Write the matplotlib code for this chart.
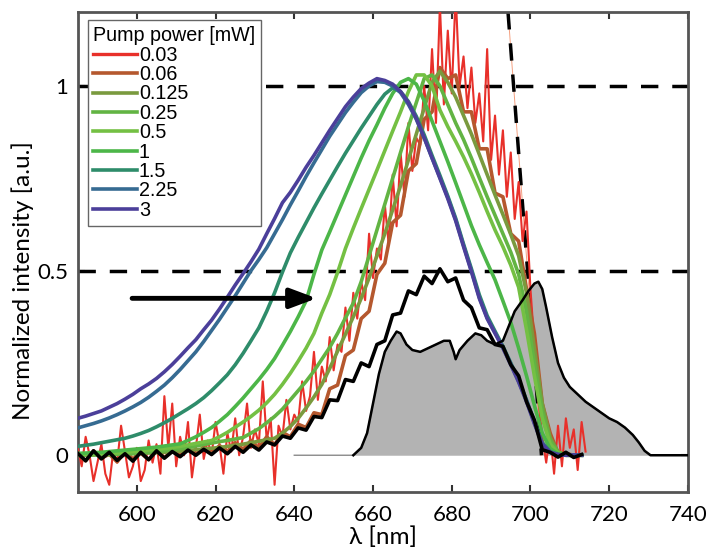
import numpy as np
import matplotlib.pyplot as plt

# wavelength grids [nm]
wl = np.arange(585, 714, 2)          # 2 nm grid for the smoother traces
wl_red = np.arange(585, 715, 1)      # 1 nm grid for the noisy 0.03 mW trace

powers = ["0.03", "0.06", "0.125", "0.25", "0.5", "1", "1.5", "2.25", "3"]
colors = ["#e8302a", "#b5582e", "#7a9a3e", "#62b443", "#74c043",
          "#4cb648", "#2e8c6a", "#366b92", "#4b3f9a"]

p003 = [0.02, -0.03, 0.05, 0.00, -0.07, -0.02, 0.03, -0.05, -0.08, 0.01,
        -0.02, 0.08, 0.01, -0.06, -0.03, 0.02, -0.07, -0.04, 0.04, -0.02,
        0.03, -0.05, 0.16, 0.02, 0.14, -0.03, 0.05, 0.00, 0.09, -0.06,
        0.02, 0.11, -0.01, 0.04, 0.00, 0.09, 0.03, -0.05, 0.06, 0.01,
        0.10, 0.00, 0.05, 0.14, 0.02, 0.07, 0.03, 0.20, 0.04, 0.10,
        -0.08, 0.08, 0.05, 0.15, 0.07, 0.11, 0.09, 0.20, 0.12, 0.16,
        0.28, 0.15, 0.24, 0.20, 0.32, 0.23, 0.30, 0.28, 0.40, 0.31,
        0.44, 0.37, 0.47, 0.42, 0.60, 0.48, 0.56, 0.53, 0.68, 0.57,
        0.76, 0.62, 0.82, 0.70, 0.90, 0.77, 0.86, 0.84, 1.00, 0.88,
        1.10, 0.90, 1.22, 0.95, 1.15, 0.98, 1.25, 1.00, 1.08, 0.94,
        1.05, 0.90, 0.98, 0.85, 1.10, 0.80, 0.92, 0.76, 0.88, 0.70,
        0.82, 0.64, 0.74, 0.58, 0.66, 0.45, 0.30, 0.15, 0.05, -0.02,
        0.06, -0.05, 0.08, -0.03, 0.10, 0.02, 0.07, -0.04, 0.09, 0.01]

p006 = [0.005, -0.015, 0.012, -0.008, 0.003, -0.018, 0.010, -0.010, 0.006, -0.012,
        0.014, -0.006, 0.010, 0.000, 0.018, 0.002, 0.022, 0.006, 0.026, 0.010,
        0.034, 0.016, 0.040, 0.020, 0.050, 0.028, 0.062, 0.050, 0.084, 0.075,
        0.115, 0.110, 0.180, 0.190, 0.270, 0.285, 0.370, 0.390, 0.490, 0.520,
        0.630, 0.650, 0.770, 0.790, 0.910, 0.930, 1.050, 1.020, 1.030, 0.930,
        0.930, 0.830, 0.830, 0.710, 0.700, 0.600, 0.580, 0.450, 0.330, 0.140,
        0.060, 0.005, 0.005, 0.000, 0.000]

p0125 = [0.000, 0.000, 0.001, 0.001, 0.002, 0.002, 0.003, 0.004, 0.005, 0.006,
         0.007, 0.008, 0.010, 0.011, 0.013, 0.015, 0.017, 0.019, 0.021, 0.024,
         0.027, 0.030, 0.034, 0.038, 0.042, 0.046, 0.060, 0.078, 0.100, 0.128,
         0.158, 0.192, 0.235, 0.282, 0.328, 0.375, 0.425, 0.480, 0.540, 0.600,
         0.665, 0.730, 0.800, 0.870, 0.940, 1.010, 1.040, 1.010, 0.970, 0.920,
         0.870, 0.815, 0.760, 0.705, 0.652, 0.598, 0.540, 0.440, 0.290, 0.140,
         0.048, 0.010, 0.000, 0.000, 0.000]

p025 = [0.000, 0.001, 0.001, 0.002, 0.002, 0.003, 0.004, 0.005, 0.006, 0.008,
        0.010, 0.012, 0.015, 0.018, 0.021, 0.025, 0.029, 0.033, 0.037, 0.040,
        0.044, 0.048, 0.060, 0.072, 0.088, 0.105, 0.125, 0.150, 0.175, 0.200,
        0.228, 0.260, 0.292, 0.330, 0.372, 0.412, 0.470, 0.540, 0.610, 0.680,
        0.750, 0.820, 0.890, 0.955, 1.020, 1.030, 1.000, 0.950, 0.900, 0.855,
        0.805, 0.752, 0.700, 0.650, 0.600, 0.550, 0.490, 0.390, 0.250, 0.120,
        0.040, 0.008, 0.000, 0.000, 0.000]

p05 = [0.002, 0.002, 0.003, 0.004, 0.005, 0.006, 0.008, 0.010, 0.012, 0.014,
       0.016, 0.018, 0.021, 0.024, 0.028, 0.032, 0.036, 0.040, 0.050, 0.062,
       0.076, 0.090, 0.105, 0.122, 0.142, 0.165, 0.192, 0.222, 0.255, 0.290,
       0.330, 0.385, 0.435, 0.495, 0.560, 0.615, 0.668, 0.720, 0.772, 0.825,
       0.878, 0.930, 0.985, 1.030, 1.030, 1.000, 0.935, 0.890, 0.850, 0.808,
       0.762, 0.712, 0.660, 0.610, 0.565, 0.515, 0.455, 0.340, 0.215, 0.100,
       0.030, 0.006, 0.000, 0.000, 0.000]

p1 = [0.005, 0.006, 0.007, 0.008, 0.010, 0.012, 0.014, 0.016, 0.018, 0.020,
      0.022, 0.025, 0.028, 0.031, 0.040, 0.050, 0.062, 0.075, 0.092, 0.110,
      0.132, 0.155, 0.180, 0.205, 0.232, 0.262, 0.298, 0.335, 0.375, 0.418,
      0.490, 0.556, 0.605, 0.655, 0.705, 0.755, 0.805, 0.852, 0.895, 0.940,
      0.980, 1.010, 1.020, 1.005, 0.960, 0.905, 0.850, 0.795, 0.738, 0.680,
      0.622, 0.570, 0.522, 0.475, 0.418, 0.360, 0.290, 0.215, 0.135, 0.060,
      0.018, 0.004, 0.000, 0.000, 0.000]

p15 = [0.024, 0.027, 0.030, 0.034, 0.038, 0.042, 0.046, 0.052, 0.059, 0.067,
       0.077, 0.088, 0.100, 0.113, 0.126, 0.140, 0.156, 0.175, 0.196, 0.218,
       0.245, 0.276, 0.310, 0.345, 0.390, 0.440, 0.496, 0.548, 0.590, 0.630,
       0.670, 0.708, 0.745, 0.782, 0.818, 0.852, 0.886, 0.918, 0.950, 0.978,
       0.995, 0.985, 0.958, 0.918, 0.868, 0.812, 0.758, 0.702, 0.642, 0.572,
       0.505, 0.435, 0.378, 0.336, 0.295, 0.250, 0.202, 0.150, 0.090, 0.034,
       0.010, 0.002, 0.000, 0.000, 0.000]

p225 = [0.074, 0.080, 0.086, 0.093, 0.101, 0.110, 0.120, 0.131, 0.143, 0.157,
        0.173, 0.190, 0.210, 0.232, 0.256, 0.280, 0.308, 0.338, 0.368, 0.400,
        0.432, 0.466, 0.500, 0.530, 0.562, 0.600, 0.638, 0.678, 0.716, 0.755,
        0.792, 0.828, 0.864, 0.896, 0.928, 0.956, 0.982, 1.000, 1.012, 1.010,
        1.000, 0.982, 0.950, 0.910, 0.860, 0.805, 0.752, 0.698, 0.638, 0.568,
        0.500, 0.428, 0.372, 0.332, 0.292, 0.248, 0.200, 0.148, 0.088, 0.032,
        0.008, 0.002, 0.000, 0.000, 0.000]

p3 = [0.100, 0.106, 0.113, 0.120, 0.130, 0.140, 0.152, 0.165, 0.180, 0.193,
      0.208, 0.226, 0.246, 0.268, 0.291, 0.313, 0.340, 0.366, 0.396, 0.428,
      0.461, 0.492, 0.524, 0.558, 0.600, 0.641, 0.684, 0.712, 0.745, 0.780,
      0.812, 0.846, 0.880, 0.912, 0.944, 0.970, 0.993, 1.008, 1.020, 1.015,
      1.005, 0.985, 0.955, 0.912, 0.860, 0.805, 0.750, 0.695, 0.635, 0.565,
      0.497, 0.425, 0.370, 0.330, 0.290, 0.245, 0.198, 0.145, 0.085, 0.030,
      0.008, 0.002, 0.000, 0.001, 0.000]

# black reference spectrum
ref = [0.005, -0.015, 0.012, -0.010, 0.008, -0.014, 0.004, -0.016, 0.008, -0.012,
       0.012, -0.008, 0.010, -0.004, 0.014, 0.000, 0.016, 0.002, 0.020, 0.004,
       0.024, 0.008, 0.028, 0.014, 0.036, 0.028, 0.052, 0.046, 0.074, 0.068,
       0.105, 0.102, 0.150, 0.148, 0.205, 0.200, 0.250, 0.240, 0.300, 0.310,
       0.380, 0.385, 0.445, 0.435, 0.485, 0.465, 0.505, 0.470, 0.480, 0.420,
       0.400, 0.345, 0.340, 0.300, 0.295, 0.245, 0.215, 0.145, 0.095, 0.015,
       0.008, -0.005, 0.008, -0.006, 0.002]

# gray filled spectrum
gray_wl = [640, 655, 657, 658.5, 660, 661.5, 663, 664.5, 666, 667, 668.5, 670,
           672, 674, 676, 678, 679.5, 680.5, 681, 682, 684, 686, 687.5, 689,
           691, 693, 694.5, 696, 698, 699.5, 701, 702, 703, 704, 705.5, 707,
           708.5, 710, 712, 714, 716, 718, 720, 722, 724, 726, 727.5, 729,
           730.5, 740]
gray_val = [0, 0, 0.02, 0.06, 0.14, 0.22, 0.28, 0.31, 0.335, 0.33, 0.30, 0.285,
            0.28, 0.29, 0.30, 0.31, 0.31, 0.28, 0.26, 0.285, 0.31, 0.33, 0.325, 0.31,
            0.30, 0.31, 0.35, 0.39, 0.42, 0.445, 0.465, 0.47, 0.45, 0.40, 0.32, 0.25,
            0.21, 0.185, 0.165, 0.145, 0.13, 0.115, 0.10, 0.09, 0.075, 0.055, 0.035, 0.012,
            0.0, 0.0]

# dashed guides and arrow
edge_wl = [694.3, 702.8]
edge_val = [1.2, 0.0]
levels = [1.0, 0.5]
arrow_from = (598.1, 0.425)
arrow_to = (646.4, 0.425)

series = [p003, p006, p0125, p025, p05, p1, p15, p225, p3]

fig = plt.figure(figsize=(7.07, 5.53), dpi=100)
ax = fig.add_axes([0.110, 0.110, 0.863, 0.868])

ax.fill_between(gray_wl, gray_val, 0, color="#b3b3b3", lw=0, zorder=1)
ax.plot(gray_wl, gray_val, color="#8a8a8a", lw=1.0, zorder=1)

for lev in levels:
    ax.axhline(lev, color="black", lw=2.5, ls=(0, (5, 4)), zorder=2)
ax.plot(edge_wl, edge_val, color="#f4a080", lw=0.7, zorder=2)
ax.plot(edge_wl, edge_val, color="black", lw=2.5, ls=(0, (5, 4)), zorder=2)

handles = []
for name, vals, c in zip(powers, series, colors):
    if name == "0.03":
        ax.plot(wl_red, vals, color=c, lw=1.5, zorder=3)
        h, = ax.plot([], [], color=c, lw=2.4)
    else:
        h, = ax.plot(wl, vals, color=c, lw=2.6, zorder=3)
    handles.append(h)

# outline of the gray spectrum (non-zero part)
ax.plot(gray_wl[1:], gray_val[1:], color="black", lw=1.8, zorder=4)
ax.plot(wl, ref, color="black", lw=2.6, zorder=5)

ax.annotate("", xy=arrow_to, xytext=arrow_from,
            arrowprops=dict(arrowstyle="-|>,head_length=0.8,head_width=0.3",
                            lw=3.5, color="black", mutation_scale=20),
            zorder=6)

ax.set_xlim(585, 740)
ax.set_ylim(-0.1, 1.2)
ax.set_xticks([600, 620, 640, 660, 680, 700, 720, 740])
ax.set_yticks([0, 0.5, 1])
ax.set_yticklabels(["0", "0.5", "1"])
ax.tick_params(direction="in", top=True, right=True, length=5, width=1.5,
               labelsize=16, colors="#333333", labelcolor="black")
ax.tick_params(axis="x", pad=9)
ax.tick_params(axis="y", pad=7)
for lab in ax.get_xticklabels() + ax.get_yticklabels():
    lab.set_family("Lato")
for s in ax.spines.values():
    s.set_linewidth(2)
    s.set_color("#555555")

ax.set_xlabel("λ [nm]", fontsize=17.5, family="Lato", labelpad=1)
ax.set_ylabel("Normalized intensity [a.u.]", fontsize=17.5, family="Lato")
ax.yaxis.set_label_coords(-0.072, 0.44)

leg = ax.legend(handles, powers, title="Pump power [mW]", loc="upper left",
                bbox_to_anchor=(0.016, 0.983), borderaxespad=0,
                prop={"family": "Liberation Sans", "size": 14.2},
                title_fontproperties={"family": "Liberation Sans", "size": 14.2},
                labelspacing=0.02, handlelength=2.2, handletextpad=0.1,
                borderpad=0.3, fancybox=False, framealpha=1, edgecolor="#666666")
leg._legend_box.align = "left"
leg.get_frame().set_linewidth(1)
leg.set_zorder(10)

fig.savefig("out.png", dpi=100)
